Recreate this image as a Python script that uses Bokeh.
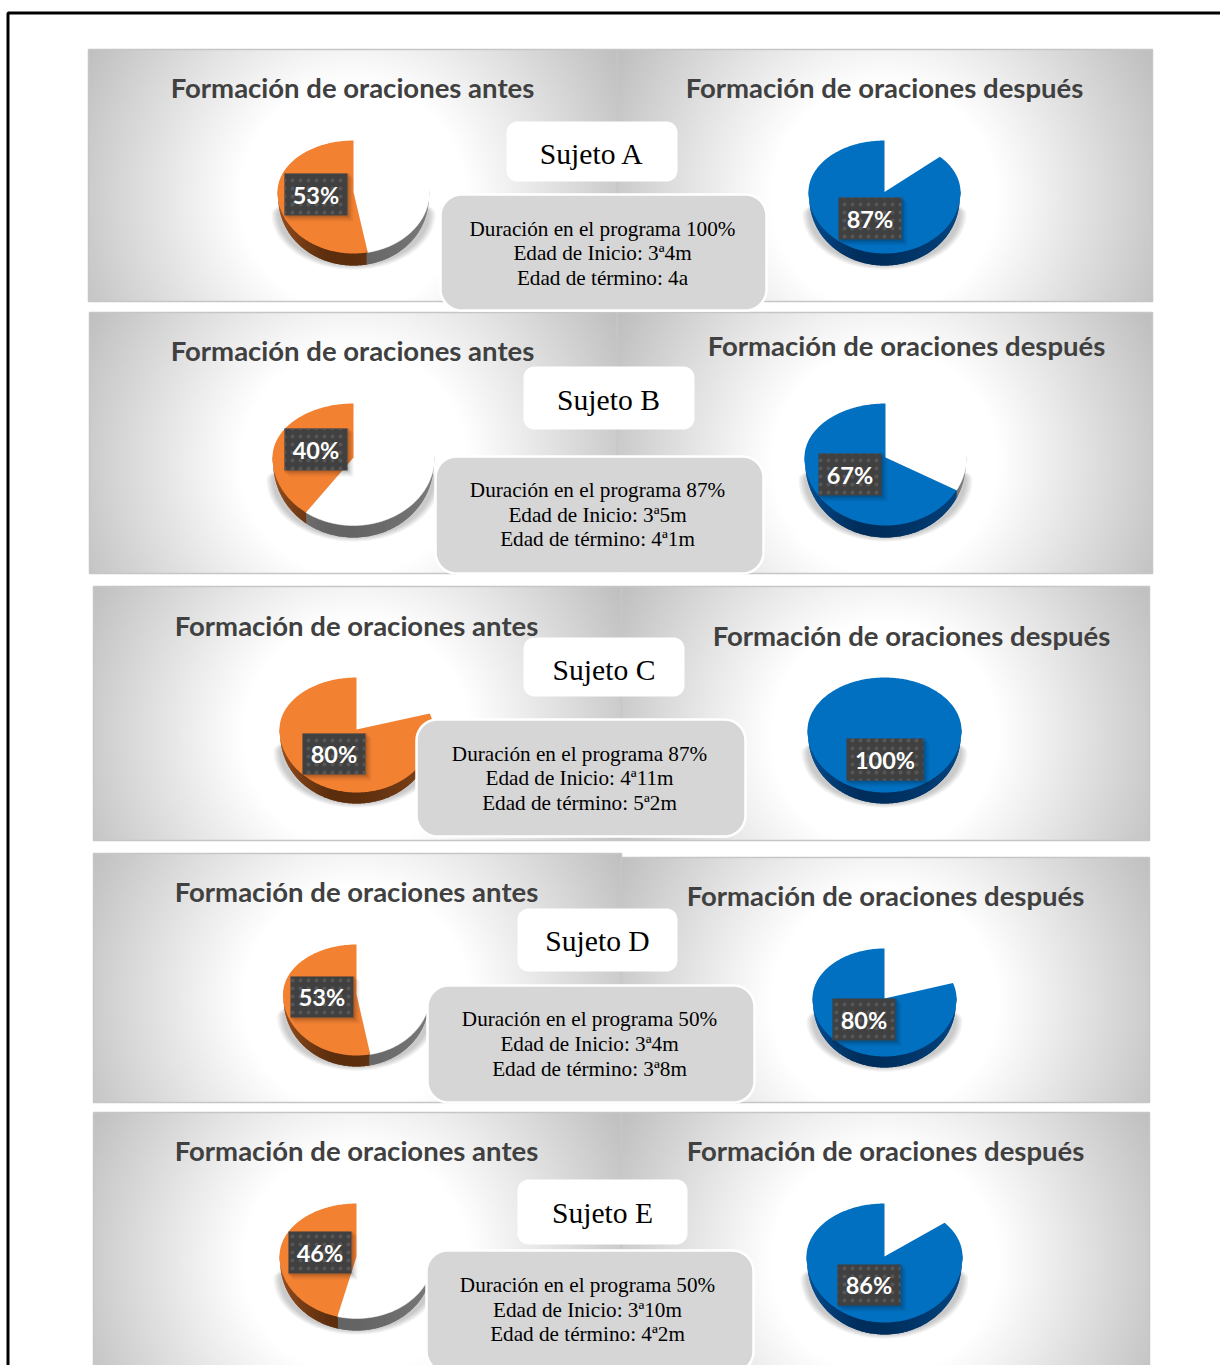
import numpy as np
from bokeh.core.properties import value
from bokeh.embed import file_html
from bokeh.models import Range1d
from bokeh.plotting import figure
from bokeh.resources import INLINE

# Values per subject
subjects = ["Sujeto A", "Sujeto B", "Sujeto C", "Sujeto D", "Sujeto E"]
before_pct = [53, 40, 80, 53, 46]
after_pct = [87, 67, 100, 80, 86]
program_pct = [100, 87, 87, 50, 50]
start_age = ["3ª4m", "3ª5m", "4ª11m", "3ª4m", "3ª10m"]
end_age = ["4a", "4ª1m", "5ª2m", "3ª8m", "4ª2m"]
title_before = "Formación de oraciones antes"
title_after = "Formación de oraciones después"

# Page geometry, one entry per row, in page pixels
panels = [
    ((88, 617, 49, 301), (617, 1152, 49, 301)),
    ((89, 617, 312, 573), (617, 1152, 312, 573)),
    ((93, 621, 586, 840), (621, 1149, 586, 840)),
    ((93, 621, 853, 1102), (621, 1149, 857, 1102)),
    ((93, 621, 1112, 1372), (621, 1149, 1112, 1372)),
]
# cx, rx, top, hub, front, depth
pies = [
    ((353, 76, 140, 191.5, 253, 12), (884, 76, 140, 191.5, 253, 12)),
    ((353, 81, 403, 457, 525, 12), (885, 81, 403, 457, 525, 12)),
    ((356, 77, 677, 729, 792, 11), (884, 77, 677, 730, 792, 11)),
    ((356, 73.5, 944, 994, 1055, 11), (884, 72, 948, 998, 1056, 11)),
    ((356, 77, 1203, 1256, 1318, 12), (884, 78, 1203, 1256, 1322, 12)),
]
# left, right, top, bottom of the value tags
tags = [
    ((284, 347, 173, 215), (838, 901, 197, 239)),
    ((284, 347, 428, 470), (818, 881, 453, 495)),
    ((302, 365, 733, 774), (846, 923, 738, 780)),
    ((290, 353, 976, 1017), (832, 895, 998, 1040)),
    ((288, 351, 1231, 1273), (837, 900, 1264, 1305)),
]
title_pos = [
    ((352, 87), (884, 87)),
    ((352, 350), (906, 345)),
    ((356, 625), (911, 635)),
    ((356, 891), (885, 895)),
    ((356, 1150), (885, 1150)),
]
name_boxes = [(506, 677, 121, 181), (523, 694, 366, 429), (523, 684, 637, 696),
              (517, 677, 908, 971), (517, 687, 1179, 1244)]
name_pos = [(591.5, 153), (608, 399.5), (603.5, 669), (597, 940), (602, 1212)]
info_boxes = [(440, 766, 194, 310), (435, 763, 456, 573), (416, 745, 719, 836),
              (427, 754, 985, 1102), (426, 753, 1250, 1372)]
info_x = [602, 597, 579, 589, 587]
info_y = [(228.5, 252.5, 277.5), (489.5, 514.5, 538.5), (753.5, 777.5, 802.5),
          (1018.5, 1043.5, 1068.5), (1284.5, 1309.5, 1333.5)]

ORANGE = ((243, 129, 50), (168, 88, 36), (92, 46, 14))
BLUE = ((2, 112, 192), (8, 90, 165), (0, 46, 92))
GREY = ((255, 255, 255), (140, 140, 140), (100, 100, 100))

p = figure(width=1220, height=1365, x_range=Range1d(0, 1220), y_range=Range1d(1365, 0),
           output_backend="svg", toolbar_location=None, min_border=0,
           background_fill_color="white", border_fill_color="white")
p.axis.visible = False
p.grid.visible = False
p.outline_line_color = None


def to_hex(c):
    return "#%02x%02x%02x" % tuple(int(round(v)) for v in c)


def panel_background(box, cx, cy):
    """Radial fade from white round the pie to mid grey at the corners."""
    x0, x1, y0, y1 = box
    step = 2
    xs = np.arange(x0, x1, step) + step / 2
    ys = np.arange(y0, y1, step) + step / 2
    gx, gy = np.meshgrid(xs, ys)
    d = np.hypot(gx - cx, gy - cy)
    t = np.clip((d - 115) / 195, 0, 1.05)
    g = (255 - 66 * t).astype(np.uint8)
    img = np.zeros(g.shape, dtype=np.uint32)
    view = img.view(dtype=np.uint8).reshape((*g.shape, 4))
    view[..., 0] = g
    view[..., 1] = g
    view[..., 2] = g
    view[..., 3] = 255
    p.image_rgba(image=[img], x=[x0], y=[y0], dw=[x1 - x0], dh=[y1 - y0])
    p.quad(left=[x0], right=[x1], top=[y0], bottom=[y1], fill_color=None,
           line_color="#c6c6c6", line_width=1.5)


def rim_point(geo, theta):
    """Pie outline point; theta runs counter-clockwise from 12 o'clock, in degrees."""
    cx, rx, top, hub, front, _ = geo
    a = np.radians(theta)
    ry = np.where(np.cos(a) >= 0, hub - top, front - hub)
    return cx - rx * np.sin(a), hub - ry * np.cos(a)


def sector(geo, a0, a1):
    th = np.linspace(a0, a1, max(int(a1 - a0), 2) + 1)
    x, y = rim_point(geo, th)
    return np.r_[geo[0], x], np.r_[geo[3], y]


def wall_drop(depth, theta):
    """Visible wall height: full at the front, tapering off at the widest points."""
    return depth * (0.12 + 0.88 * np.sqrt(np.abs(np.cos(np.radians(theta)))))


def draw_pie(geo, pct, palette):
    cx, rx, top, hub, front, depth = geo
    # soft drop shadow, tucked under the lower half of the disc
    th = np.linspace(0, 360, 121)
    base = hub + 22
    for grow in (6, 4.5, 3, 1.5, 0):
        x, y = rim_point((cx, rx + grow, base - 20, base, front + depth + grow * 0.7, 0), th)
        p.patch(x, y, fill_color="#000000", fill_alpha=0.045, line_color=None)
    # side wall, painted strip by strip with each one overlapping the next
    split = pct * 3.6
    step = 2.0
    for a in np.arange(90, 270, step):
        ends = np.linspace(a, min(a + 2 * step, 270), 5)
        x, y = rim_point(geo, ends)
        lower_x = cx + (x - cx) * 0.992
        lower_y = y + wall_drop(depth, ends)
        mid = a + step / 2
        coloured = mid < split
        _, near, far = palette if coloured else GREY
        t = min(abs(mid - 90) / 70, 1) if mid < 180 else max(1 - (mid - 180) / 130, 0.45)
        col = to_hex([near[i] + (far[i] - near[i]) * t for i in range(3)])
        p.patch(np.r_[x, lower_x[::-1]], np.r_[y - 2, lower_y[::-1]], fill_color=col, line_color=None)
    # top face
    if pct < 100:
        x, y = sector(geo, split, 360)
        p.patch(x, y, fill_color="white", line_color="white", line_width=0.5)
    x, y = sector(geo, 0, split)
    p.patch(x, y, fill_color=to_hex(palette[0]), line_color=None)


def draw_tag(box, pct):
    x0, x1, y0, y1 = box
    for off, alpha in ((6, 0.05), (4, 0.08), (2, 0.12)):
        p.quad(left=[x0 + off - 2], right=[x1 + off], top=[y0 + off - 2], bottom=[y1 + off],
               fill_color="black", fill_alpha=alpha, line_color=None)
    p.quad(left=[x0], right=[x1], top=[y0], bottom=[y1], fill_color="#404040", line_color=None,
           hatch_pattern="dot", hatch_color="#565656", hatch_scale=8, hatch_weight=0.3)
    p.text(x=[(x0 + x1) / 2], y=[(y0 + y1) / 2], text=[f"{pct}%"], text_color="white",
           text_font=value("Lato"), text_font_style="bold", text_font_size="23.5px",
           text_align="center", text_baseline="middle")


def rounded(box, r):
    x0, x1, y0, y1 = box
    t = np.linspace(0, np.pi / 2, 12)
    xs = np.r_[x1 - r + r * np.sin(t), x1 - r + r * np.cos(t), x0 + r - r * np.sin(t), x0 + r - r * np.cos(t)]
    ys = np.r_[y0 + r - r * np.cos(t), y1 - r + r * np.sin(t), y1 - r + r * np.cos(t), y0 + r - r * np.sin(t)]
    return xs, ys


# Outer page frame
p.line([1220, 7.5, 7.5], [12.5, 12.5, 1365], line_color="black", line_width=3)

for row in range(len(subjects)):
    for side in range(2):
        geo = pies[row][side]
        panel_background(panels[row][side], geo[0], geo[3] + 5)

for row in range(len(subjects)):
    for side, (pct, palette, title) in enumerate(((before_pct[row], ORANGE, title_before),
                                                  (after_pct[row], BLUE, title_after))):
        tx, ty = title_pos[row][side]
        p.text(x=[tx], y=[ty], text=[title], text_color="#404040", text_font=value("Lato"),
               text_font_style="bold", text_font_size="27.5px", text_align="center", text_baseline="middle")
        draw_pie(pies[row][side], pct, palette)
        draw_tag(tags[row][side], pct)

    xs, ys = rounded(name_boxes[row], 11)
    p.patch(xs, ys, fill_color="white", line_color=None)
    p.text(x=[name_pos[row][0]], y=[name_pos[row][1]], text=[subjects[row]], text_color="black",
           text_font=value("Liberation Serif"), text_font_size="29.6px",
           text_align="center", text_baseline="middle")

    xs, ys = rounded(info_boxes[row], 21)
    p.patch(xs, ys, fill_color="#d6d6d6", line_color="white", line_width=2.5)
    lines = [f"Duración en el programa {program_pct[row]}%",
             f"Edad de Inicio: {start_age[row]}",
             f"Edad de término: {end_age[row]}"]
    p.text(x=[info_x[row]] * 3, y=list(info_y[row]), text=lines, text_color="black",
           text_font=value("Liberation Serif"), text_font_size="21.2px",
           text_align="center", text_baseline="middle")

open("out.html", "w").write(file_html(p, INLINE))
